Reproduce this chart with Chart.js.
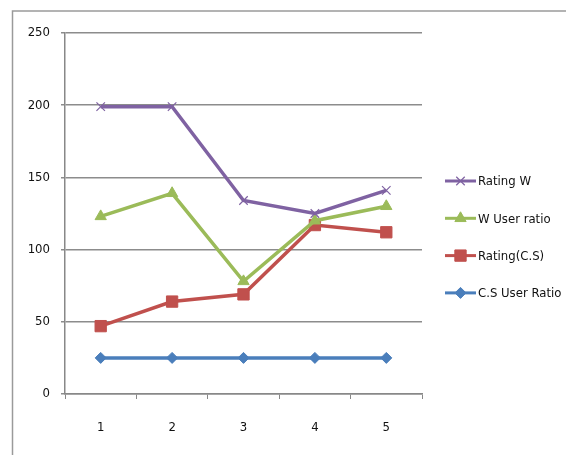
<!DOCTYPE html>
<html><head><meta charset="utf-8">
<script src="https://cdn.jsdelivr.net/npm/chart.js@4/dist/chart.umd.min.js"></script>
<style>html,body{margin:0;padding:0;background:#fff;}#wrap{width:566px;height:455px;position:relative;}</style>
</head><body><div id="wrap"><canvas id="c" width="566" height="455"></canvas></div>
<script>
const categories = ['1','2','3','4','5'];
const ratingW = [199, 199, 134, 125, 141];
const wUserRatio = [123, 139, 78, 120, 130];
const ratingCS = [47, 64, 69, 117, 112];
const csUserRatio = [25, 25, 25, 25, 25];
const seriesNames = ['Rating W', 'W User ratio', 'Rating(C.S)', 'C.S User Ratio'];
const yTicks = [0, 50, 100, 150, 200, 250];

const FONT = "'DejaVu Sans Condensed','DejaVu Sans',sans-serif";

const frame = {
  id: 'frame',
  beforeDraw(chart) {
    const ctx = chart.ctx;
    ctx.save();
    ctx.fillStyle = '#fff';
    ctx.fillRect(0, 0, chart.width, chart.height);
    ctx.strokeStyle = '#9a9a9a';
    ctx.lineWidth = 1.5;
    ctx.beginPath();
    ctx.moveTo(12.5, chart.height);
    ctx.lineTo(12.5, 11);
    ctx.lineTo(chart.width, 11);
    ctx.stroke();
    ctx.restore();
  }
};

const legendPlugin = {
  id: 'customLegend',
  afterDraw(chart) {
    const ctx = chart.ctx;
    ctx.save();
    chart.data.datasets.forEach((ds, i) => {
      const y = 181 + i * 37.3;
      ctx.strokeStyle = ds.borderColor;
      ctx.lineWidth = 3;
      ctx.beginPath();
      ctx.moveTo(445, y);
      ctx.lineTo(476, y);
      ctx.stroke();
      ctx.fillStyle = ds.backgroundColor;
      ctx.strokeStyle = ds.borderColor;
      ctx.lineWidth = ds.pointBorderWidth || 1;
      Chart.helpers.drawPoint(ctx, {pointStyle: ds.pointStyle, radius: ds.pointRadius, rotation: 0, borderWidth: ds.pointBorderWidth || 1}, 460.5, y);
      ctx.fillStyle = '#111';
      ctx.font = '13px ' + FONT;
      ctx.textAlign = 'left';
      ctx.textBaseline = 'middle';
      ctx.fillText(ds.label, 478, y + 1);
    });
    ctx.restore();
  }
};

new Chart(document.getElementById('c'), {
  type: 'line',
  data: {
    labels: categories,
    datasets: [
      {label: seriesNames[0], data: ratingW, borderColor: '#7f62a2', backgroundColor: '#7f62a2', pointStyle: 'crossRot', pointRadius: 6, pointBorderWidth: 1.2, borderWidth: 3.5},
      {label: seriesNames[1], data: wUserRatio, borderColor: '#9bbb59', backgroundColor: '#9bbb59', pointStyle: 'triangle', pointRadius: 6.5, pointBorderWidth: 1, borderWidth: 3.5},
      {label: seriesNames[2], data: ratingCS, borderColor: '#c0504d', backgroundColor: '#c0504d', pointStyle: 'rect', pointRadius: 8, pointBorderWidth: 1, borderWidth: 3.5},
      {label: seriesNames[3], data: csUserRatio, borderColor: '#4a7ebb', backgroundColor: '#4a7ebb', pointStyle: 'rectRot', pointRadius: 5.5, pointBorderWidth: 1, borderWidth: 3.5}
    ]
  },
  options: {
    responsive: false,
    animation: false,
    events: [],
    layout: {padding: {top: 33, right: 144, bottom: 0, left: 0}},
    plugins: {legend: {display: false}, tooltip: {enabled: false}},
    elements: {line: {tension: 0}},
    scales: {
      x: {
        offset: true,
        grid: {offset: true, drawOnChartArea: false, drawTicks: true, tickLength: 5, color: '#888'},
        border: {color: '#888', width: 1.5},
        ticks: {padding: 21, color: '#111', font: {family: FONT, size: 13}},
        afterFit(s) { s.height = 61; }
      },
      y: {
        min: 0, max: 250,
        afterBuildTicks(s) { s.ticks = yTicks.map(v => ({value: v})); },
        grid: {color: '#8c8c8c', lineWidth: 1.5, tickLength: 4},
        border: {color: '#888', width: 1.5},
        ticks: {padding: 11, color: '#111', font: {family: FONT, size: 13}},
        afterFit(s) { s.width = 65; }
      }
    }
  },
  plugins: [frame, legendPlugin]
});
</script></body></html>
